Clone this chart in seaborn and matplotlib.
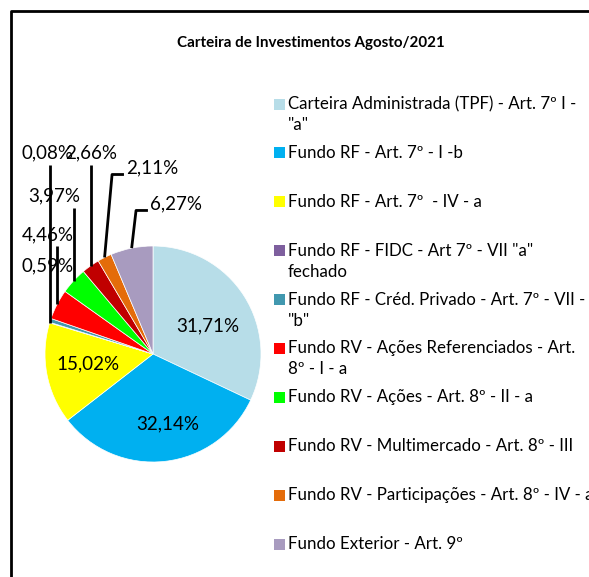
import matplotlib
matplotlib.use("Agg")
import matplotlib.pyplot as plt
import seaborn as sns
import numpy as np
from matplotlib.patches import Rectangle
from matplotlib.lines import Line2D

sns.set_theme(style="white")
plt.rcParams['font.family'] = ['Lato', 'DejaVu Sans']

# ---------------- data ----------------
title = "Carteira de Investimentos Agosto/2021"
categories = [
    "Carteira Administrada (TPF) - Art. 7º I -\n\"a\"",
    "Fundo RF - Art. 7º - I -b",
    "Fundo RF - Art. 7º  - IV - a",
    "Fundo RF - FIDC - Art 7º - VII \"a\"\nfechado",
    "Fundo RF - Créd. Privado - Art. 7º - VII -\n\"b\"",
    "Fundo RV - Ações Referenciados - Art.\n8º - I - a",
    "Fundo RV - Ações - Art. 8º - II - a",
    "Fundo RV - Multimercado - Art. 8º - III",
    "Fundo RV - Participações - Art. 8º - IV - a",
    "Fundo Exterior - Art. 9º",
]
values = [31.71, 32.14, 15.02, 0.08, 0.59, 4.46, 3.97, 2.66, 2.11, 6.27]
colors = ["#B7DDE8", "#00B0F0", "#FFFF00", "#7E5F9E", "#4198AF",
          "#FF0000", "#00FF00", "#C00000", "#E46C0A", "#A89BBF"]

# ---------------- layout ----------------
W, H = 589, 577
fig = plt.figure(figsize=(W / 100, H / 100), dpi=100)
fig.patch.set_facecolor("white")

cx, cy, R = 153, 354, 108
ax = fig.add_axes([(cx - R) / W, (H - cy - R) / H, 2 * R / W, 2 * R / H])
wedges, _ = ax.pie(values, colors=colors, startangle=90, counterclock=False,
                   radius=1.0, wedgeprops=dict(edgecolor="white", linewidth=0.5))
ax.set_xlim(-1, 1)
ax.set_ylim(-1, 1)
ax.axis("off")

def fmt(v):
    return f"{v:.2f}".replace(".", ",") + "%"

label_fs = 13.5
# inside labels (data coords)
inside_pos = {0: (0.509, 0.259), 1: (0.139, -0.648), 2: (-0.602, -0.093)}
for i, (x, y) in inside_pos.items():
    ax.text(x, y, fmt(values[i]), ha="center", va="center", fontsize=label_fs,
            color="black", clip_on=False)

# outside labels with leader lines
outside = {
    3: ((-0.977, 1.861), "v"),
    4: ((-0.972, 0.815), None),
    5: ((-0.972, 1.106), "v"),
    6: ((-0.917, 1.463), "v"),
    7: ((-0.574, 1.861), "v"),
    8: ((-0.009, 1.722), "e"),
    9: ((0.213, 1.389), "e"),
}
for i, ((lx, ly), style) in outside.items():
    w = wedges[i]
    tm = np.deg2rad((w.theta1 + w.theta2) / 2)
    axp, ayp = np.cos(tm), np.sin(tm)
    if style == "v":
        ax.plot([axp, axp], [ly - 0.11, ayp], color="black", lw=2,
                clip_on=False, solid_capstyle="butt")
    elif style == "e":
        yl = ly - 0.06
        ax.plot([lx - 0.26, lx - 0.37, axp], [yl, yl, ayp], color="black",
                lw=2, clip_on=False, solid_capstyle="butt")
for i, ((lx, ly), style) in outside.items():
    ax.text(lx, ly, fmt(values[i]), ha="center", va="center", fontsize=label_fs,
            color="black", clip_on=False)

# title
fig.text(311 / W, 1 - 43 / H, title, ha="center", va="center",
         fontsize=10.9, fontweight="bold", color="black")

# legend (manual, Excel-like fixed slots)
leg_fs = 12.2
for i, (lab, col) in enumerate(zip(categories, colors)):
    y = 104 + 48.9 * i
    fig.patches.append(Rectangle((274 / W, 1 - (y + 5.5) / H), 11 / W, 11 / H,
                                 transform=fig.transFigure, facecolor=col,
                                 edgecolor="none"))
    for k, line in enumerate(lab.split("\n")):
        fig.text(288 / W, 1 - (y + 21 * k) / H, line, ha="left", va="center",
                 fontsize=leg_fs, color="black")

# chart border
fig.lines.append(Line2D([10.5 / W, 10.5 / W, 1.2], [-0.2, 1 - 10.5 / H, 1 - 10.5 / H],
                        transform=fig.transFigure, color="black", lw=2))

fig.savefig("out.png", dpi=100, facecolor="white")
